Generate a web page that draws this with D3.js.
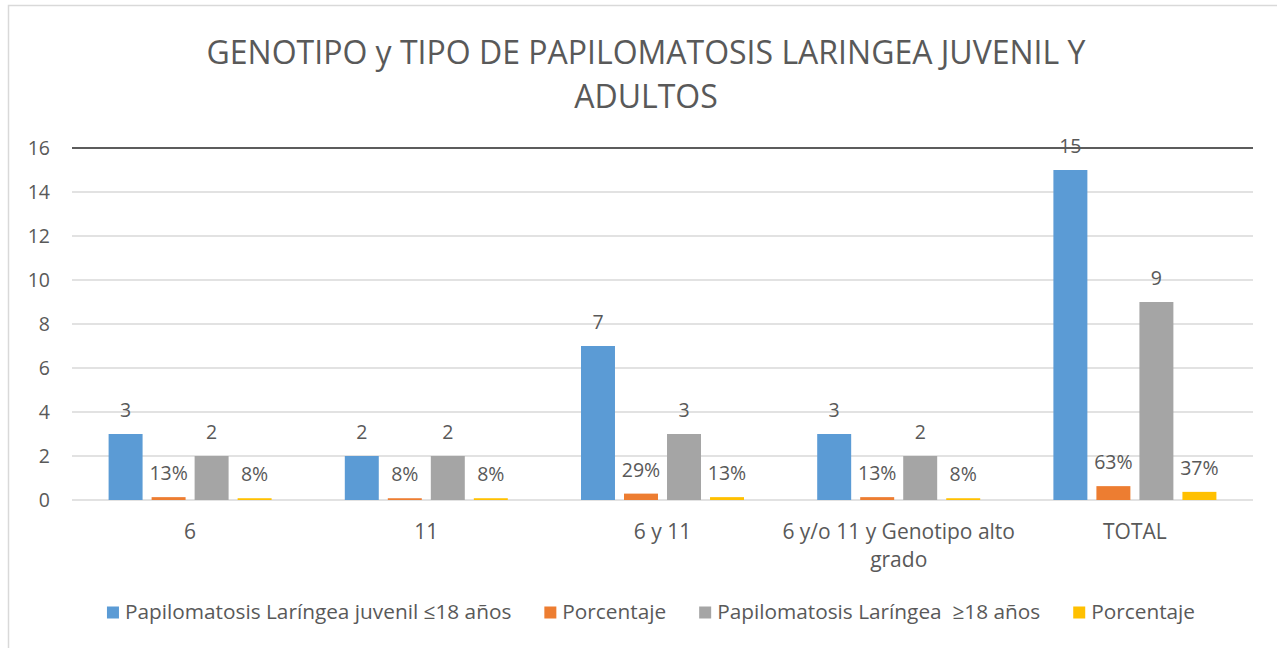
<!DOCTYPE html>
<html><head><meta charset="utf-8">
<script src="https://cdn.jsdelivr.net/npm/d3@7"></script>
<style>body{margin:0;background:#fff;} text{font-family:"Open Sans","Noto Sans",sans-serif;fill:#595959;}</style>
</head><body><svg id="c" width="1277" height="648"></svg>
<script>
const categories = ["6", "11", "6 y 11", "6 y/o 11 y Genotipo alto grado", "TOTAL"];
const seriesNames = ["Papilomatosis Laríngea juvenil ≤18 años", "Porcentaje", "Papilomatosis Laríngea  ≥18 años", "Porcentaje"];
const juvenil = [3, 2, 7, 3, 15];
const juvenilPct = [0.13, 0.08, 0.29, 0.13, 0.63];
const adultos = [2, 2, 3, 2, 9];
const adultosPct = [0.08, 0.08, 0.13, 0.08, 0.37];
const yTicks = [0, 2, 4, 6, 8, 10, 12, 14, 16];
const colors = ["#5B9BD5", "#ED7D31", "#A5A5A5", "#FFC000"];
const titleLines = ["GENOTIPO y TIPO DE PAPILOMATOSIS LARINGEA JUVENIL Y", "ADULTOS"];

const series = [
  {name: seriesNames[0], values: juvenil, pct: false},
  {name: seriesNames[1], values: juvenilPct, pct: true},
  {name: seriesNames[2], values: adultos, pct: false},
  {name: seriesNames[3], values: adultosPct, pct: true}
];

const svg = d3.select("#c");
// frame
svg.append("rect").attr("x", 8.5).attr("y", 5.5).attr("width", 1300).attr("height", 700)
  .attr("fill", "none").attr("stroke", "#d9d9d9").attr("stroke-width", 1.5);

const L = 72, R = 1253, T = 148, B = 500;
const x0 = d3.scaleBand().domain(categories).range([L, R]);
const groupW = 163;
const x1 = d3.scaleBand().domain(d3.range(4))
  .range([(x0.bandwidth() - groupW) / 2, (x0.bandwidth() + groupW) / 2]).paddingInner(0.21);
const y = d3.scaleLinear().domain([0, 16]).range([B, T]);

// gridlines
svg.append("g").selectAll("line").data(yTicks.filter(d => d < 16)).join("line")
  .attr("x1", L).attr("x2", R).attr("y1", d => y(d)).attr("y2", d => y(d))
  .attr("stroke", "#d9d9d9").attr("stroke-width", 1.5);
svg.append("line").attr("x1", L).attr("x2", R).attr("y1", y(16)).attr("y2", y(16))
  .attr("stroke", "#262626").attr("stroke-width", 1.5);

// y tick labels
svg.append("g").selectAll("text").data(yTicks).join("text")
  .attr("x", 50).attr("y", d => y(d)).attr("dy", "0.36em").attr("text-anchor", "end")
  .style("font-size", "19.5px").text(d => d);

// bars
series.forEach((s, i) => {
  const g = svg.append("g");
  g.selectAll("rect").data(categories).join("rect")
    .attr("x", (c) => x0(c) + x1(i)).attr("width", x1.bandwidth())
    .attr("y", (c, j) => y(s.values[j])).attr("height", (c, j) => B - y(s.values[j]))
    .attr("fill", colors[i]);
  g.selectAll("text").data(categories).join("text")
    .attr("x", c => x0(c) + x1(i) + x1.bandwidth() / 2)
    .attr("y", (c, j) => y(s.values[j]) - 17)
    .attr("text-anchor", "middle").style("font-size", "19.5px")
    .text((c, j) => s.pct ? Math.round(s.values[j] * 100) + "%" : s.values[j]);
});

// x labels (wrapped)
const xl = svg.append("g");
categories.forEach(c => {
  const lines = c === "6 y/o 11 y Genotipo alto grado" ? ["6 y/o 11 y Genotipo alto", "grado"] : [c];
  lines.forEach((ln, k) => {
    xl.append("text").attr("x", x0(c) + x0.bandwidth() / 2).attr("y", 539 + k * 28)
      .attr("text-anchor", "middle").style("font-size", "21px").text(ln);
  });
});

// title
titleLines.forEach((t, k) => {
  svg.append("text").attr("x", 646).attr("y", 64 + k * 44).attr("text-anchor", "middle")
    .style("font-size", "32px").text(t);
});

// legend
const lg = svg.append("g");
const items = [];
series.forEach((s, i) => {
  const it = lg.append("g");
  it.append("rect").attr("x", 0).attr("y", -12.5).attr("width", 12).attr("height", 12).attr("fill", colors[i]);
  const t = it.append("text").attr("x", 18).attr("y", 0).style("font-size", "20.8px").style("white-space", "pre").attr("xml:space", "preserve").text(s.name);
  const w = 18 + t.node().getComputedTextLength();
  items.push({it, w});
});
const gap = 33;
const total = d3.sum(items, d => d.w) + gap * (items.length - 1);
let px = 651 - total / 2;
items.forEach(d => { d.it.attr("transform", `translate(${px},619)`); px += d.w + gap; });
</script></body></html>
